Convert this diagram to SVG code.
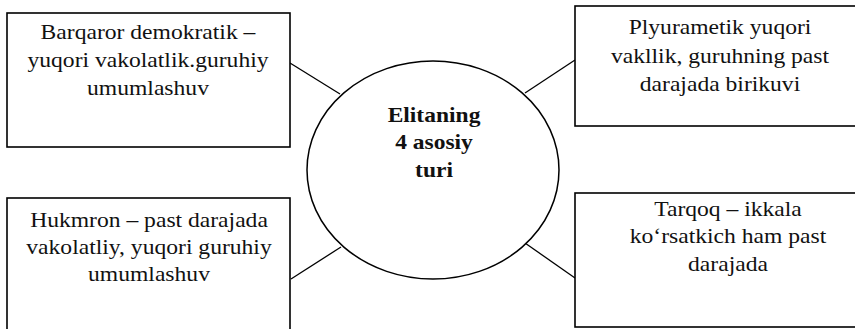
<svg xmlns="http://www.w3.org/2000/svg" width="855" height="329" viewBox="0 0 855 329">
<style>
.box{fill:#fff;stroke:#000;stroke-width:1.6}
.ell{fill:#fff;stroke:#000;stroke-width:1.5}
.t{font-size:20px;fill:#111;text-anchor:middle}
.b{font-size:21px;font-weight:bold;fill:#111;text-anchor:middle}
.c{stroke:#000;stroke-width:1.3;fill:none}
</style>
<rect width="855" height="329" fill="#fff"/>
<g id="connectors">
<line class="c" x1="290" y1="63" x2="340" y2="94"/>
<line class="c" x1="525" y1="93" x2="575" y2="60"/>
<line class="c" x1="291" y1="279" x2="341" y2="247"/>
<line class="c" x1="525" y1="243" x2="575" y2="278"/>
</g>
<g id="center">
<ellipse class="ell" cx="433" cy="170" rx="126" ry="109"/>
<g transform="translate(434,0) scale(1.12,1)" font-family="Liberation Serif, Times New Roman, DejaVu Serif, serif">
<text class="b" x="0" y="122">Elitaning</text>
<text class="b" x="0" y="149">4 asosiy</text>
<text class="b" x="0" y="177">turi</text>
</g>
</g>
<g id="top-left">
<rect class="box" x="7" y="13" width="283" height="134"/>
<g transform="translate(148,0) scale(1.18,1)" font-family="Liberation Serif, Times New Roman, DejaVu Serif, serif">
<text class="t" x="0" y="39">Barqaror demokratik –</text>
<text class="t" x="0" y="67">yuqori vakolatlik.guruhiy</text>
<text class="t" x="0" y="95">umumlashuv</text>
</g>
</g>
<g id="top-right">
<rect class="box" x="575" y="6" width="300" height="120"/>
<g transform="translate(720,0) scale(1.18,1)" font-family="Liberation Serif, Times New Roman, DejaVu Serif, serif">
<text class="t" x="0" y="34">Plyurametik yuqori</text>
<text class="t" x="0" y="63">vakllik, guruhning past</text>
<text class="t" x="0" y="91">darajada birikuvi</text>
</g>
</g>
<g id="bottom-left">
<rect class="box" x="7" y="198" width="283" height="145"/>
<g transform="translate(149,0) scale(1.18,1)" font-family="Liberation Serif, Times New Roman, DejaVu Serif, serif">
<text class="t" x="0" y="227">Hukmron – past darajada</text>
<text class="t" x="0" y="254">vakolatliy, yuqori guruhiy</text>
<text class="t" x="0" y="281">umumlashuv</text>
</g>
</g>
<g id="bottom-right">
<rect class="box" x="575" y="193" width="300" height="134"/>
<g transform="translate(728,0) scale(1.18,1)" font-family="Liberation Serif, Times New Roman, DejaVu Serif, serif">
<text class="t" x="0" y="216">Tarqoq – ikkala</text>
<text class="t" x="0" y="243">ko‘rsatkich ham past</text>
<text class="t" x="0" y="271">darajada</text>
</g>
</g>
</svg>
